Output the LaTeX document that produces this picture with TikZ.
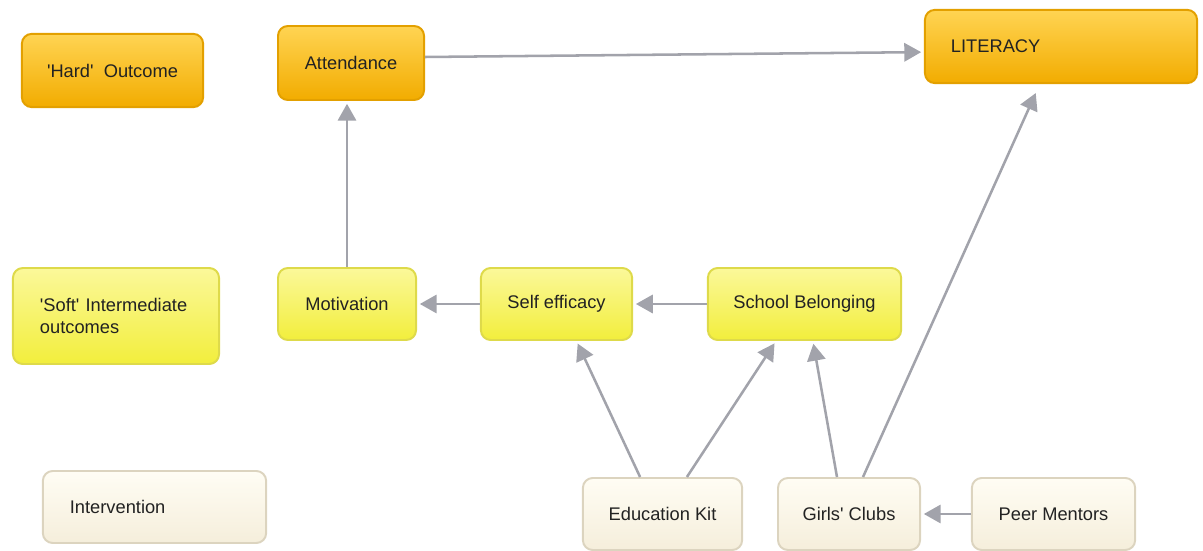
\documentclass[tikz,border=0pt]{standalone}
\usepackage{fontspec}
\setmainfont{Liberation Sans}
\usetikzlibrary{arrows.meta}

\definecolor{hardtop}{HTML}{FFD453}
\definecolor{hardbot}{HTML}{F2AC00}
\definecolor{hardline}{HTML}{E3A000}
\definecolor{softtop}{HTML}{FBF89A}
\definecolor{softbot}{HTML}{F2EE3C}
\definecolor{softline}{HTML}{DEDA4A}
\definecolor{inttop}{HTML}{FFFDF4}
\definecolor{intbot}{HTML}{F5EEDB}
\definecolor{intline}{HTML}{DCD4BF}
\definecolor{linkgray}{HTML}{A2A3AB}
\definecolor{textdark}{HTML}{222222}

\tikzset{
    box/.style={rounded corners=7pt, line width=1.4pt, inner sep=0pt,
        font=\fontsize{13}{16}\selectfont, text=textdark},
    hardbox/.style={box, draw=hardline, top color=hardtop, bottom color=hardbot},
    softbox/.style={box, draw=softline, top color=softtop, bottom color=softbot},
    intbox/.style={box, draw=intline, top color=inttop, bottom color=intbot},
    link/.style={draw=linkgray, line width=1.8pt,
        -{Triangle[length=12pt,width=13pt]}, shorten >=2pt}
}

\begin{document}
\begin{tikzpicture}[x=0.025cm, y=-0.025cm]
    \useasboundingbox (0,0) rectangle (1203,551);

    % outcomes
    \node[hardbox, minimum width=4.53cm, minimum height=1.83cm] (hard) at (112.5,70.5) {\textquotesingle Hard\textquotesingle\ \ Outcome};
    \node[hardbox, minimum width=3.65cm, minimum height=1.85cm] (attend) at (351,63) {Attendance};
    \node[hardbox, minimum width=6.8cm, minimum height=1.83cm, inner xsep=0.65cm, text width=5.5cm, align=left] (literacy) at (1061,46.5) {LITERACY};

    % intermediate
    \node[softbox, minimum height=2.4cm, inner xsep=0.675cm, text width=3.8cm, align=left] (soft) at (116,316) {\mbox{\textquotesingle Soft\textquotesingle\ Intermediate}\\outcomes};
    \node[softbox, minimum width=3.45cm, minimum height=1.8cm] (motiv) at (347,304) {Motivation};
    \node[softbox, minimum width=3.78cm, minimum height=1.8cm] (selfeff) at (556.5,304) {Self efficacy};
    \node[softbox, minimum width=4.83cm, minimum height=1.8cm] (belong) at (804.5,304) {School Belonging};

    % interventions
    \node[intbox, minimum height=1.8cm, inner xsep=0.675cm, text width=4.23cm, align=left] (interv) at (154.5,507) {Intervention};
    \node[intbox, minimum width=3.98cm, minimum height=1.8cm] (kit) at (662.5,514) {Education Kit};
    \node[intbox, minimum width=3.55cm, minimum height=1.8cm] (clubs) at (849,514) {Girls\textquotesingle\ Clubs};
    \node[intbox, minimum width=4.08cm, minimum height=1.8cm] (mentors) at (1053.5,514) {Peer Mentors};

    % links
    \draw[link] ([yshift=0.15cm]attend.east) -- ([yshift=-0.14cm]literacy.west);
    \draw[link] (motiv.north) -- (motiv.north |- attend.south);
    \draw[link] (selfeff.west) -- (motiv.east);
    \draw[link] (belong.west) -- (selfeff.east);
    \draw[link] ([xshift=-0.56cm]kit.north) -- ([xshift=0.5cm]selfeff.south);
    \draw[link] ([xshift=0.61cm]kit.north) -- ([xshift=-0.71cm]belong.south);
    \draw[link] ([xshift=-0.3cm]clubs.north) -- ([xshift=0.21cm]belong.south);
    \draw[link, shorten >=7pt] ([xshift=0.35cm]clubs.north) -- ([xshift=-0.53cm]literacy.south);
    \draw[link] (mentors.west) -- (clubs.east);
\end{tikzpicture}
\end{document}
